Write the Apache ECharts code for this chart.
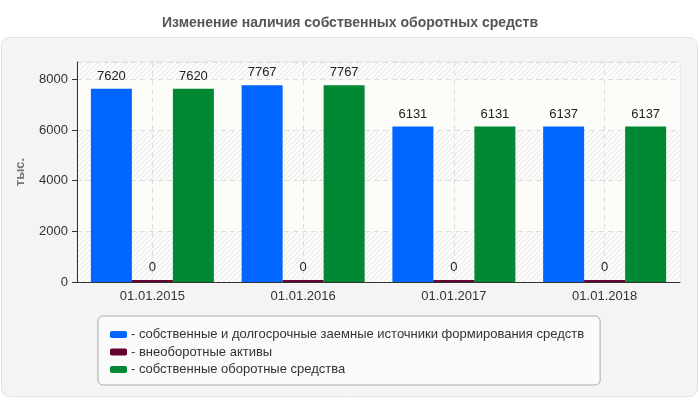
<!DOCTYPE html>
<html>
<head>
<meta charset="utf-8">
<script src="https://cdn.jsdelivr.net/npm/echarts@6/dist/echarts.min.js"></script>
<style>
  html, body { margin: 0; padding: 0; background: #fff; }
  #chart { width: 700px; height: 400px; }
</style>
</head>
<body>
<div id="chart"></div>
<script>
// данные
var dates = ['01.01.2015', '01.01.2016', '01.01.2017', '01.01.2018'];
var seriesNames = [
  'собственные и долгосрочные заемные источники формирования средств',
  'внеоборотные активы',
  'собственные оборотные средства'
];
var ownAndLongTerm = [7620, 7767, 6131, 6137];
var nonCurrentAssets = [0, 0, 0, 0];
var ownWorkingCapital = [7620, 7767, 6131, 6137];
var colors = ['#0066ff', '#660033', '#008833'];

// штриховка фона
function hatch() {
  var c = document.createElement('canvas');
  c.width = 5; c.height = 5;
  var ctx = c.getContext('2d');
  ctx.fillStyle = '#fcfcfb';
  ctx.fillRect(0, 0, 5, 5);
  ctx.strokeStyle = '#e6e6e6';
  ctx.lineWidth = 1;
  ctx.beginPath();
  ctx.moveTo(-1, 6); ctx.lineTo(6, -1);
  ctx.moveTo(-1, 1); ctx.lineTo(1, -1);
  ctx.moveTo(4, 6); ctx.lineTo(6, 4);
  ctx.stroke();
  return { image: c, repeat: 'repeat' };
}

var myChart = echarts.init(document.getElementById('chart'), null, { renderer: 'canvas' });

var labelStyle = { show: true, position: 'top', distance: 6, color: '#222', fontSize: 13, fontFamily: 'Liberation Sans, Arial' };

var option = {
  animation: false,
  textStyle: { fontFamily: 'Liberation Sans, Arial' },
  title: {
    text: 'Изменение наличия собственных оборотных средств',
    left: 'center',
    top: 11,
    textStyle: { fontSize: 14, fontWeight: 'bold', color: '#555' }
  },
  graphic: [{
    type: 'rect',
    z: -10,
    shape: { x: 1.5, y: 37.5, width: 696, height: 359, r: 8 },
    style: { fill: '#f4f4f4', stroke: '#e2e2e2', lineWidth: 1 }
  }],
  grid: {
    left: 77, right: 20, top: 62, bottom: 118,
    show: true,
    borderColor: '#dddddd',
    borderWidth: 1,
    backgroundColor: 'transparent'
  },
  legend: {
    orient: 'vertical',
    left: 98,
    top: 316,
    padding: [12, 16, 9, 12],
    itemGap: 4.5,
    itemWidth: 17,
    itemHeight: 7,
    icon: 'roundRect',
    backgroundColor: '#fafafa',
    borderColor: '#aaaaaa',
    borderWidth: 1,
    borderRadius: 5,
    data: seriesNames,
    formatter: function (name) { return '- ' + name; },
    textStyle: { color: '#333', fontSize: 13, padding: [0, 0, 0, -1] }
  },
  xAxis: [{
    type: 'category',
    data: dates,
    axisLine: { lineStyle: { color: '#333' } },
    axisTick: { alignWithLabel: true, length: 4, lineStyle: { color: '#333' } },
    axisLabel: { color: '#333', fontSize: 13, margin: 8 },
    splitLine: { show: false }
  }, {
    // скрытая ось только для вертикальных линий сетки по центрам категорий
    type: 'category',
    data: ['0', '1', '2', '3', '4', '5', '6', '7', '8'],
    boundaryGap: false,
    position: 'bottom',
    axisLine: { show: false },
    axisTick: { show: false },
    axisLabel: { show: false },
    splitLine: {
      show: true,
      interval: function (index) { return index % 2 === 1; },
      lineStyle: { color: '#dddddd', type: [5, 4] }
    }
  }],
  yAxis: {
    type: 'value',
    min: 0,
    max: 8680,
    interval: 2000,
    name: 'тыс.',
    nameLocation: 'middle',
    nameGap: 50,
    nameTextStyle: { color: '#777', fontSize: 13, fontWeight: 'bold' },
    axisLine: { show: true, lineStyle: { color: '#333' } },
    axisTick: { show: true, length: 5, lineStyle: { color: '#333' } },
    axisLabel: {
      color: '#333', fontSize: 13, margin: 9, showMaxLabel: false,
      formatter: function (v) { return String(v); }
    },
    splitLine: { lineStyle: { color: '#dddddd', type: [5, 4] } },
    splitArea: {
      show: true,
      areaStyle: { color: [hatch(), '#fcfcf8'] }
    }
  },
  series: [{
    name: seriesNames[0],
    type: 'bar',
    data: ownAndLongTerm,
    barWidth: 41,
    barGap: '0%',
    itemStyle: { color: colors[0] },
    label: labelStyle
  }, {
    name: seriesNames[1],
    type: 'bar',
    data: nonCurrentAssets,
    barWidth: 41,
    barGap: '0%',
    barMinHeight: 2,
    itemStyle: { color: colors[1] },
    label: labelStyle
  }, {
    name: seriesNames[2],
    type: 'bar',
    data: ownWorkingCapital,
    barWidth: 41,
    barGap: '0%',
    itemStyle: { color: colors[2] },
    label: labelStyle
  }]
};

myChart.setOption(option);
</script>
</body>
</html>
